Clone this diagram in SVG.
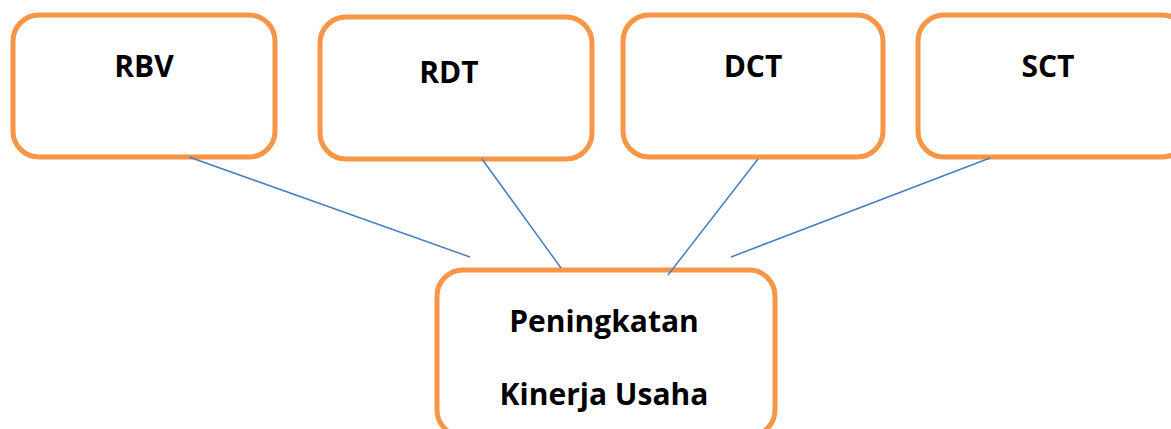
<svg xmlns="http://www.w3.org/2000/svg" width="1171" height="429" viewBox="0 0 1171 429">
<style>
.box{fill:#fff;stroke:#F79646;stroke-width:5}
.lbl{font-family:"Open Sans","Liberation Sans",sans-serif;font-weight:700;font-size:30px;fill:#000;text-anchor:middle}
.conn line{stroke:#4A7EBB;stroke-width:1.5}
</style>
<rect width="1171" height="429" fill="#fff"/>
<g id="n-rbv"><rect class="box" x="13" y="15" width="262" height="142" rx="26"/><text class="lbl" x="144" y="77">RBV</text></g>
<g id="n-rdt"><rect class="box" x="320" y="17" width="272" height="142" rx="26"/><text class="lbl" x="449" y="83">RDT</text></g>
<g id="n-dct"><rect class="box" x="623" y="15" width="260" height="142" rx="26"/><text class="lbl" x="753" y="77">DCT</text></g>
<g id="n-sct"><rect class="box" x="918" y="15" width="270" height="142" rx="26"/><text class="lbl" x="1048" y="77">SCT</text></g>
<g id="n-pku"><rect class="box" x="437" y="270" width="338" height="166" rx="26"/><text class="lbl" x="604" y="332">Peningkatan</text><text class="lbl" x="604" y="405">Kinerja Usaha</text></g>
<g class="conn" id="connectors">
<line x1="189" y1="157" x2="470" y2="257"/>
<line x1="482" y1="159" x2="561" y2="268"/>
<line x1="758" y1="159" x2="668" y2="275"/>
<line x1="990" y1="158" x2="731" y2="257"/>
</g>
</svg>
